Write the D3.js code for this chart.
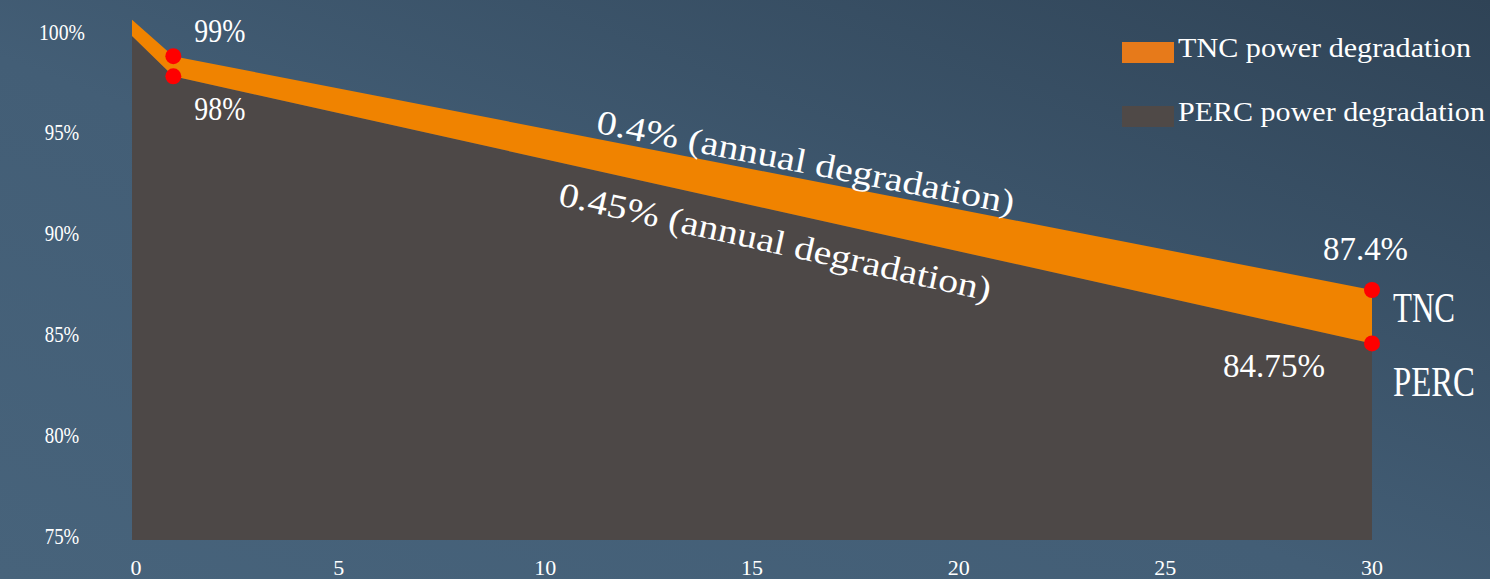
<!DOCTYPE html>
<html>
<head>
<meta charset="utf-8">
<script src="https://cdn.jsdelivr.net/npm/d3@7"></script>
<style>
  html, body { margin: 0; padding: 0; background: #3e566c; }
  svg { display: block; }
  text { font-family: "Liberation Serif", "DejaVu Serif", serif; fill: #ffffff; }
</style>
</head>
<body>
<svg id="chart" width="1490" height="579"></svg>
<script>
// values
const years = [0, 1, 30];
const tncValues = [100.8, 99, 87.4];
const percValues = [100, 98, 84.75];
const xTickValues = [0, 5, 10, 15, 20, 25, 30];
const yTickValues = [75, 80, 85, 90, 95, 100];
const seriesNames = ["TNC", "PERC"];
const legendLabels = ["TNC power degradation", "PERC power degradation"];
const rateLabels = ["0.4% (annual degradation)", "0.45% (annual degradation)"];

const width = 1490;
const height = 579;
const orange = "#f08300";
const grey = "#4d4847";

const svg = d3.select("#chart");

// background
const defs = svg.append("defs");
const bg = defs.append("linearGradient")
    .attr("id", "bg")
    .attr("x1", 0).attr("y1", 1)
    .attr("x2", 1).attr("y2", 0);
bg.append("stop").attr("offset", 0).attr("stop-color", "#47637b");
bg.append("stop").attr("offset", 0.45).attr("stop-color", "#435e76");
bg.append("stop").attr("offset", 1).attr("stop-color", "#2f4356");
svg.append("rect").attr("width", width).attr("height", height).attr("fill", "url(#bg)");

const x = d3.scaleLinear().domain([0, 30]).range([132, 1372]);
const y = d3.scaleLinear().domain([75, 100]).range([540, 36]);

// half-width glyph look: every character gets half an em
const fitText = (sel, fs, w) => sel
    .style("font-size", fs + "px")
    .attr("textLength", function () { return this.textContent.length * (w || fs * 0.5); })
    .attr("lengthAdjust", "spacingAndGlyphs");

const tnc = years.map((d, i) => ({ year: d, tnc: tncValues[i], perc: percValues[i] }));

// PERC area down to the baseline
const percArea = d3.area()
    .x(d => x(d.year))
    .y0(y(75))
    .y1(d => y(d.perc));

// TNC band between the two curves
const tncArea = d3.area()
    .x(d => x(d.year))
    .y0(d => y(d.perc))
    .y1(d => y(d.tnc));

svg.append("path").datum(tnc).attr("d", percArea).attr("fill", grey);
svg.append("path").datum(tnc).attr("d", tncArea).attr("fill", orange);

// axes labels
svg.append("g").selectAll("text")
    .data(yTickValues).enter().append("text")
    .attr("x", 62)
    .attr("y", d => y(d) - 4)
    .attr("text-anchor", "middle")
    .attr("dominant-baseline", "central")
    .attr("fill", "#f2f2f2")
    .text(d => d + "%")
    .call(fitText, 23);

svg.append("g").selectAll("text")
    .data(xTickValues).enter().append("text")
    .attr("x", d => x(d) + (d === 0 ? 4 : 0))
    .attr("y", 575)
    .attr("text-anchor", "middle")
    .attr("fill", "#f2f2f2")
    .text(d => d)
    .call(fitText, 22);

// red markers at year 1 and year 30
const marks = [];
[1, 2].forEach(i => {
    marks.push({ year: years[i], v: tncValues[i] });
    marks.push({ year: years[i], v: percValues[i] });
});
svg.append("g").selectAll("circle")
    .data(marks).enter().append("circle")
    .attr("cx", d => x(d.year))
    .attr("cy", d => y(d.v))
    .attr("r", 8)
    .attr("fill", "#ff0000");

// value labels
const valueLabels = [
    { text: tncValues[1] + "%", px: x(years[1]) + 21, py: y(tncValues[1]) - 14, anchor: "start" },
    { text: percValues[1] + "%", px: x(years[1]) + 21, py: y(percValues[1]) + 44, anchor: "start" },
    { text: tncValues[2] + "%", px: x(years[2]) + 36, py: y(tncValues[2]) - 30, anchor: "end" },
    { text: percValues[2] + "%", px: x(years[2]) - 47, py: y(percValues[2]) + 34, anchor: "end" }
];
svg.append("g").selectAll("text")
    .data(valueLabels).enter().append("text")
    .attr("x", d => d.px)
    .attr("y", d => d.py)
    .attr("text-anchor", d => d.anchor)
    .text(d => d.text)
    .call(fitText, 34);

// series names at the right end, squeezed narrow by a horizontal scale
const nameRows = [
    { text: seriesNames[0], py: y(tncValues[2]) + 32, w: 62 },
    { text: seriesNames[1], py: y(percValues[2]) + 53, w: 82 }
];
nameRows.forEach(r => {
    const t = svg.append("text")
        .style("font-size", "42px")
        .text(r.text);
    const natural = t.node().getComputedTextLength();
    t.attr("transform", "translate(" + (x(years[2]) + 21) + "," + r.py + ") scale(" + (r.w / natural) + ",1)");
});

// rotated annual degradation notes along each line
const along = (vals, yr) => d3.scaleLinear().domain([years[1], years[2]]).range([vals[1], vals[2]])(yr);
const slopeDeg = vals => Math.atan2(y(vals[2]) - y(vals[1]), x(years[2]) - x(years[1])) * 180 / Math.PI;
const notes = [
    { text: rateLabels[0], vals: tncValues, yr: 11.2, off: -6 },
    { text: rateLabels[1], vals: percValues, yr: 10.28, off: 43 }
];
notes.forEach(n => {
    const px = x(n.yr);
    const py = y(along(n.vals, n.yr)) + n.off;
    svg.append("text")
        .attr("transform", "translate(" + px + "," + py + ") rotate(" + slopeDeg(n.vals) + ")")
        .text(n.text)
        .call(fitText, 34);
});

// legend
const legend = svg.append("g").attr("transform", "translate(1122,42)");
const legendColors = ["#e77a1a", "#4f4947"];
legendLabels.forEach((t, i) => {
    legend.append("rect")
        .attr("x", 0).attr("y", i * 64)
        .attr("width", 52).attr("height", 21)
        .attr("fill", legendColors[i]);
    legend.append("text")
        .attr("x", 56).attr("y", i * 64 + 15)
        .text(t)
        .call(fitText, 28, 13.95);
});
</script>
</body>
</html>
